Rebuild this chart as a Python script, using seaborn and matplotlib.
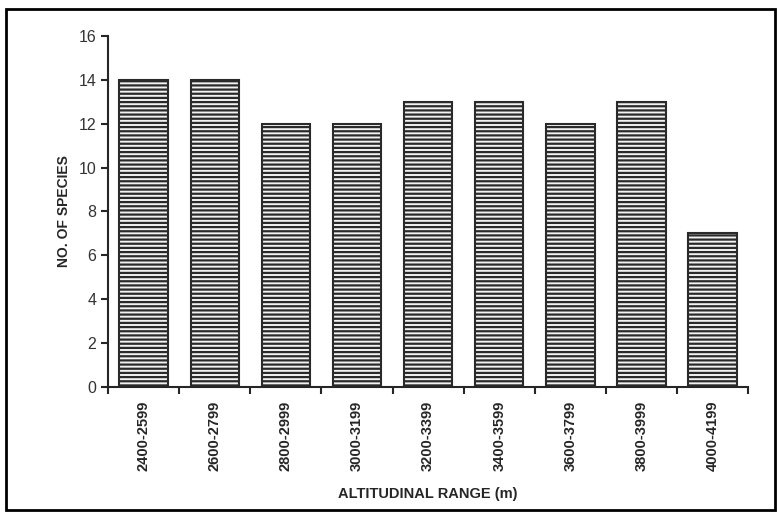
import numpy as np
import pandas as pd
import matplotlib
matplotlib.use("Agg")
import matplotlib.pyplot as plt
from matplotlib.patches import Rectangle
import seaborn as sns

# data
ranges = ['2400-2599', '2600-2799', '2800-2999', '3000-3199', '3200-3399',
          '3400-3599', '3600-3799', '3800-3999', '4000-4199']
species = [14, 14, 12, 12, 13, 13, 12, 13, 7]

df = pd.DataFrame({'range': ranges, 'species': species})

sns.set_style('ticks')
plt.rcParams['font.family'] = ['Liberation Sans', 'DejaVu Sans']
plt.rcParams['hatch.linewidth'] = 1.6

fig = plt.figure(figsize=(7.77, 5.12), dpi=100)
ax = fig.add_axes([0.139, 0.244, 0.824, 0.686])

sns.barplot(data=df, x='range', y='species', color='white', width=0.68,
            edgecolor='#2a2a2a', linewidth=1.5, saturation=1, ax=ax)
for p in ax.patches:
    p.set_hatch('----')
    p.set_facecolor('#f2f2f2')

ax.set_ylim(0, 16)
ax.set_yticks(range(0, 17, 2))
ax.set_xlim(-0.5, 8.5)
ax.set_xticks(np.arange(-0.5, 9, 1), minor=False)
ax.set_xticklabels([])
ax.set_xticks(np.arange(0, 9), minor=True)
ax.set_xticklabels(ranges, minor=True, rotation=90, fontweight='bold', fontsize=10.5)
ax.tick_params(axis='x', which='minor', length=0, pad=10)
ax.tick_params(axis='x', which='major', length=5, width=1.5, direction='out')
ax.tick_params(axis='y', length=5, width=1.5, labelsize=11.5, labelcolor='#333333')

for s in ['top', 'right']:
    ax.spines[s].set_visible(False)
for s in ['left', 'bottom']:
    ax.spines[s].set_linewidth(1.5)

ax.set_ylabel('NO. OF SPECIES', fontweight='bold', fontsize=10, labelpad=5)
ax.set_xlabel('ALTITUDINAL RANGE (m)', fontweight='bold', fontsize=10.5, labelpad=11)

# outer frame
fig.patches.append(Rectangle((0.008, 0.004), 0.99, 0.978, transform=fig.transFigure,
                             fill=False, edgecolor='black', linewidth=2))

fig.savefig('out.png', dpi=100)
